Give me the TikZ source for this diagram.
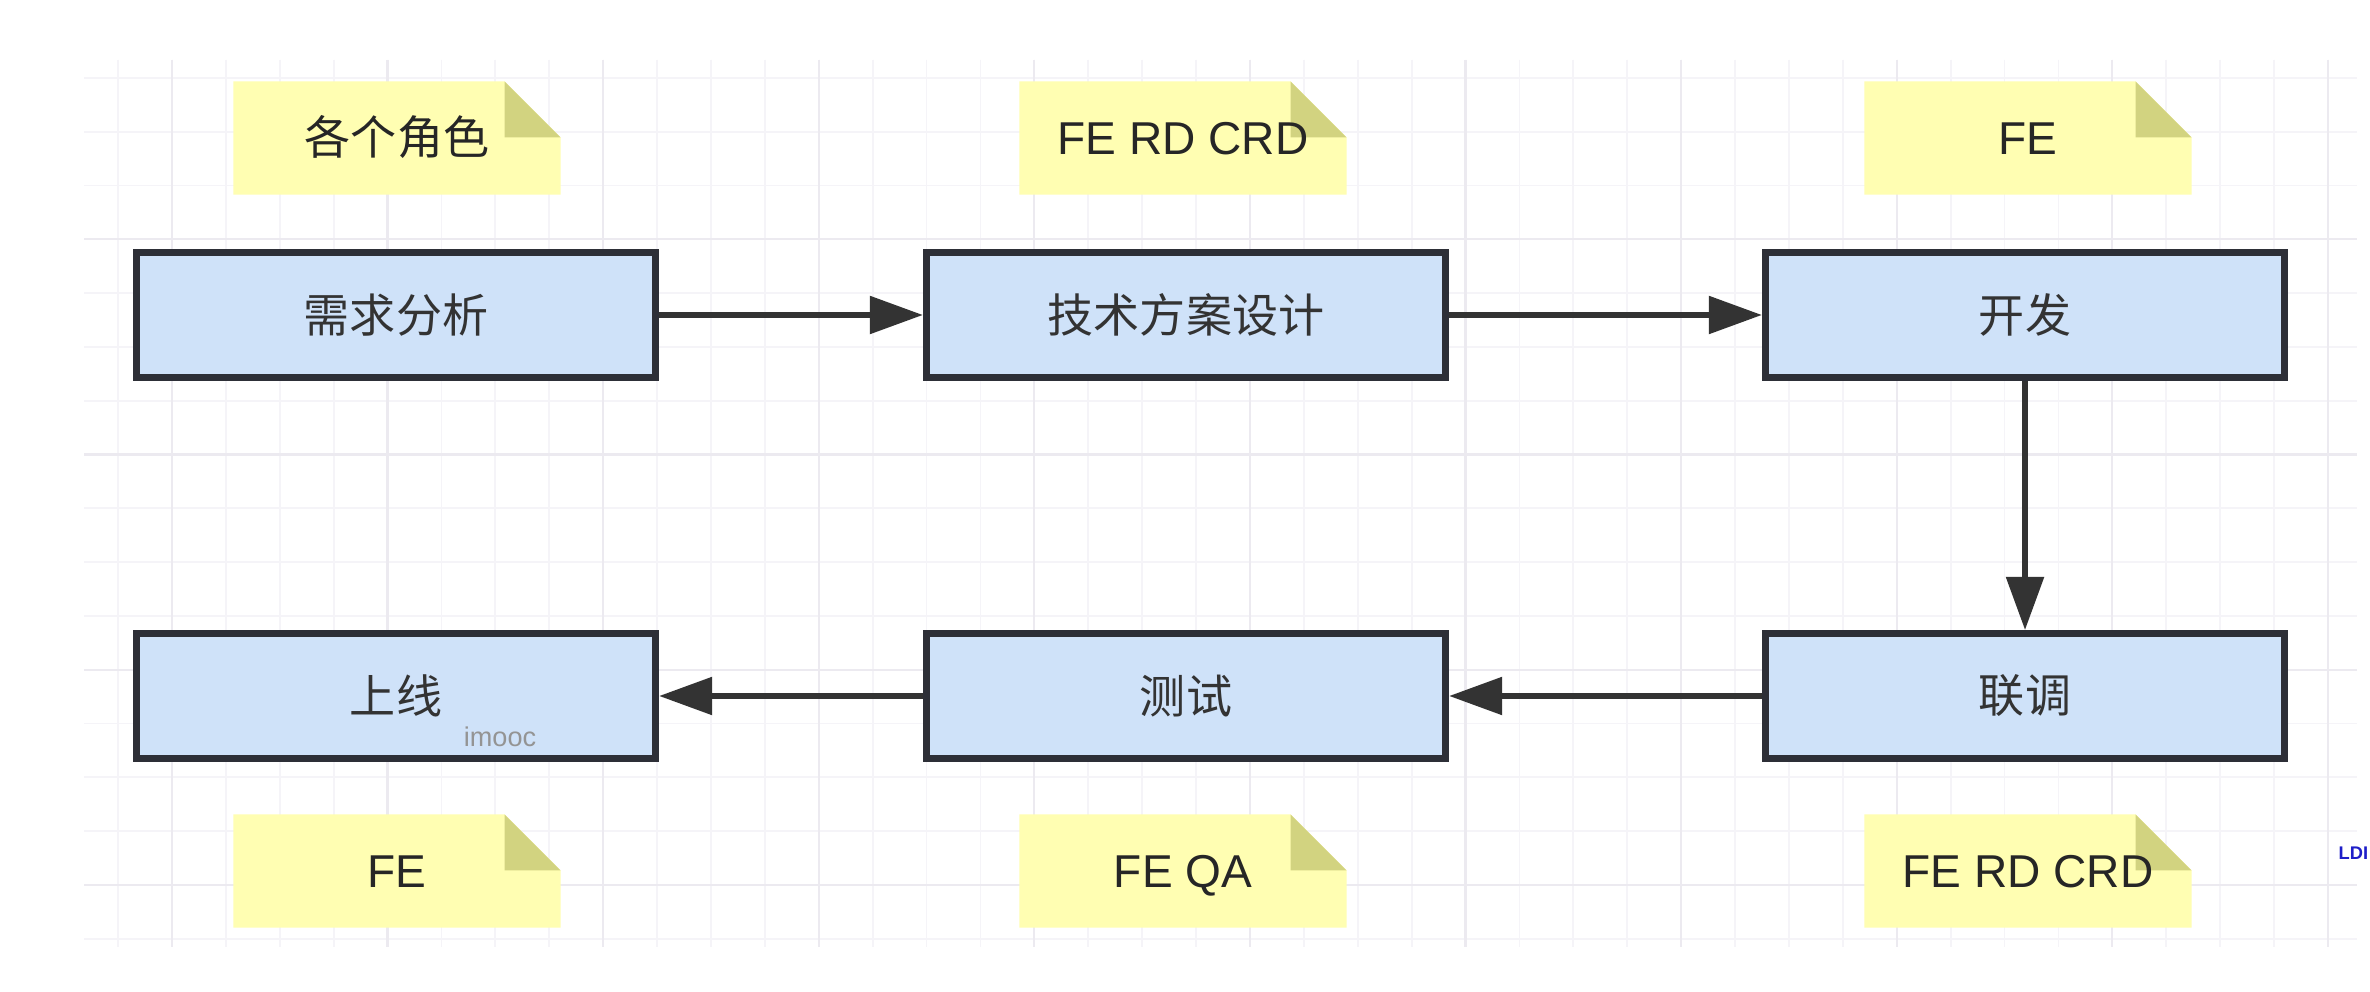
\documentclass[tikz,border=0pt]{standalone}
\usepackage{fontspec}
\setmainfont{Liberation Sans}
\newfontfamily\cjk{Noto Sans CJK SC}
\usetikzlibrary{arrows.meta}

\begin{document}
\begin{tikzpicture}[
  x=0.01cm, y=-0.01cm,
  gridminor/.style={draw=gridA, line width=0.018cm},
  gridmajor/.style={draw=gridB, line width=0.022cm},
  box/.style={draw=boxline, fill=boxfill, line width=0.07cm, minimum width=5.19cm,
    minimum height=1.25cm, inner sep=0pt, text=black!80,
    font=\cjk\fontsize{13.1pt}{15pt}\selectfont},
  note/.style={minimum width=3.27cm, minimum height=1.13cm, inner sep=0pt, text=black!85,
    text height=0.33cm, text depth=0cm,
    font=\fontsize{13.1pt}{15pt}\selectfont,
    path picture={
      \fill[notefill] (path picture bounding box.south west)
        |- ([xshift=-0.56cm]path picture bounding box.north east)
        -- ([yshift=-0.56cm]path picture bounding box.north east)
        -- (path picture bounding box.south east) -- cycle;
      \fill[foldfill] ([xshift=-0.56cm]path picture bounding box.north east)
        |- ([yshift=-0.56cm]path picture bounding box.north east) -- cycle;
    }},
  flow/.style={draw=arrowc, line width=0.055cm, -{Triangle[length=0.53cm, width=0.37cm]}}
]
\definecolor{gridA}{RGB}{245,244,248}
\definecolor{gridB}{RGB}{236,234,240}
\definecolor{boxfill}{RGB}{207,226,249}
\definecolor{boxline}{RGB}{45,47,55}
\definecolor{arrowc}{RGB}{51,51,51}
\definecolor{notefill}{RGB}{255,254,178}
\definecolor{foldfill}{RGB}{210,211,128}
\definecolor{ldblue}{RGB}{30,30,200}

\path[use as bounding box, fill=white] (0,0) rectangle (2370,992);

% grid
\foreach \k in {0,...,41}
  \draw[gridminor] (118+53.9*\k,60) -- (118+53.9*\k,947);
\foreach \k in {0,...,16}
  \draw[gridminor] (84,78+53.8*\k) -- (2357,78+53.8*\k);
\foreach \k in {1,5,...,41}
  \draw[gridmajor] (118+53.9*\k,60) -- (118+53.9*\k,947);
\foreach \k in {3,7,11,15}
  \draw[gridmajor] (84,78+53.8*\k) -- (2357,78+53.8*\k);

% roles
\foreach \nm/\cx/\cy/\txt in {roleA/397/138/{\cjk 各个角色}, roleB/1183/138/FE RD CRD,
                               roleC/2028/138/FE, roleD/2028/871/FE RD CRD,
                               roleE/1183/871/FE QA, roleF/397/871/FE} {
  \node[note] (\nm) at (\cx,\cy) {\txt};
}

% steps
\node[box] (need)  at (396,315)  {需求分析};
\node[box] (plan)  at (1186,315) {技术方案设计};
\node[box] (dev)   at (2025,315) {开发};
\node[box] (joint) at (2025,696) {联调};
\node[box] (test)  at (1186,696) {测试};
\node[box] (live)  at (396,696)  {上线};

\draw[flow] (need) -- (plan);
\draw[flow] (plan) -- (dev);
\draw[flow] (dev) -- (joint);
\draw[flow] (joint) -- (test);
\draw[flow] (test) -- (live);

\node[text=black!42, inner sep=0pt, font=\fontsize{7.7pt}{9pt}\selectfont] (wmark) at (500,737) {imooc};
\node[anchor=west, inner sep=0pt, text=ldblue, font=\bfseries\fontsize{5.2pt}{6pt}\selectfont] (edgemark) at (2338,853) {LDI};
\end{tikzpicture}
\end{document}
